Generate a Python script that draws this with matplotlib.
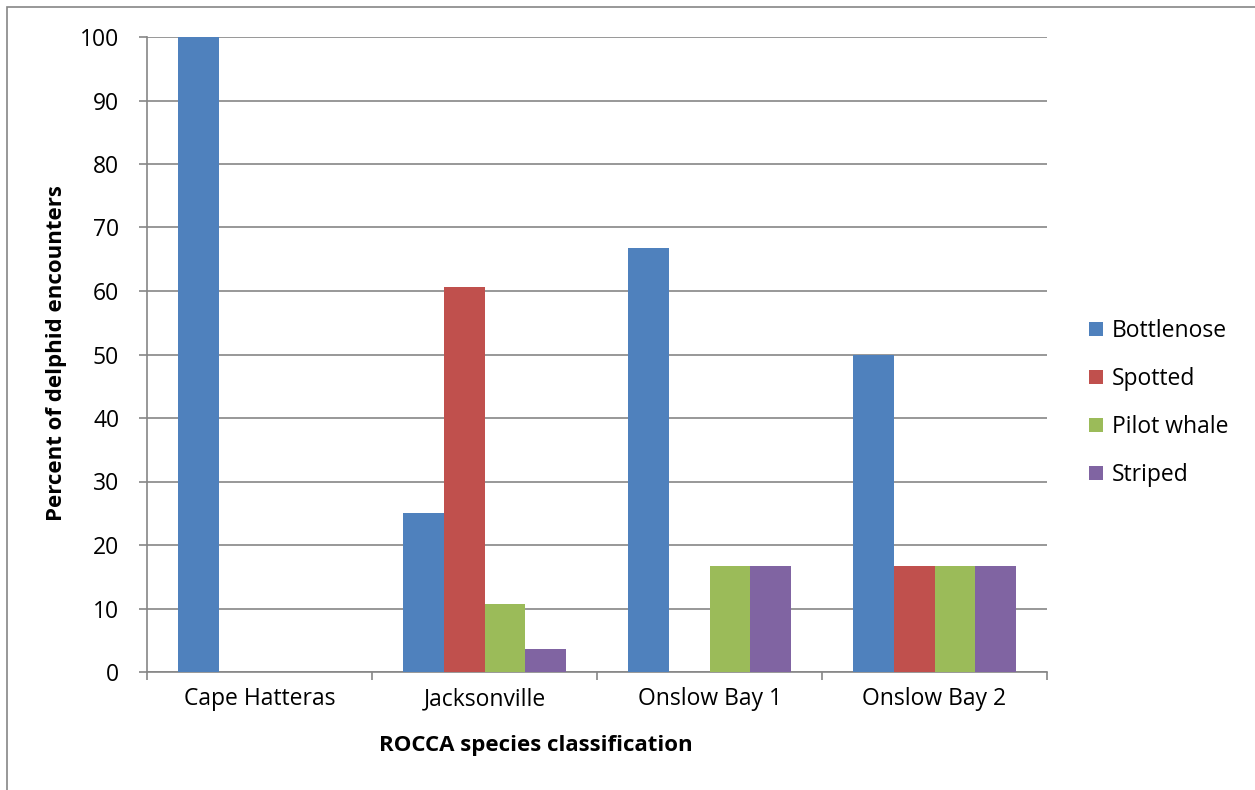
import matplotlib.pyplot as plt
from matplotlib.patches import Rectangle
import numpy as np

sites = ['Cape Hatteras', 'Jacksonville', 'Onslow Bay 1', 'Onslow Bay 2']
species = ['Bottlenose', 'Spotted', 'Pilot whale', 'Striped']
bottlenose = [100, 25.0, 66.7, 50.0]
spotted = [0, 60.7, 0, 16.7]
pilot_whale = [0, 10.7, 16.7, 16.7]
striped = [0, 3.6, 16.7, 16.7]
colors = ['#4F81BD', '#C0504D', '#9BBB59', '#8064A2']

plt.rcParams['font.family'] = ['Open Sans', 'DejaVu Sans']

fig = plt.figure(figsize=(12.55, 7.9), dpi=100)
ax = fig.add_axes([147/1255, 118/790, 900/1255, 635/790])

x = np.arange(len(sites))
w = 1/5.5
series = [bottlenose, spotted, pilot_whale, striped]
for i, (name, vals) in enumerate(zip(species, series)):
    ax.bar(x + (i - 1.5)*w, vals, w, color=colors[i], label=name, zorder=3)

ax.set_xlim(-0.5, 3.5)
ax.set_ylim(0, 100)
ax.set_yticks(range(0, 101, 10))
ax.set_xticks(x)
ax.set_xticklabels(sites)
ax.set_xticks(np.arange(-0.5, 4, 1), minor=True)
ax.tick_params(axis='x', which='major', length=0, pad=11, labelsize=16.5)
ax.tick_params(axis='x', which='minor', length=6, color='#868686', width=1.2)
ax.tick_params(axis='y', length=6, color='#868686', width=1.2, labelsize=16.5, pad=14)
ax.yaxis.grid(True, color='#868686', linewidth=1.2, zorder=0)
for s in ['top', 'right']:
    ax.spines[s].set_visible(False)
for s in ['left', 'bottom']:
    ax.spines[s].set_color('#868686')
    ax.spines[s].set_linewidth(1.2)

fig.text(536/1255, 1 - 746/790, 'ROCCA species classification', ha='center', va='center',
         fontsize=16, fontweight='bold')
fig.text(57/1255, 1 - 353/790, 'Percent of delphid encounters', ha='center', va='center',
         rotation=90, fontsize=16, fontweight='bold')

fig.legend(loc='center left', bbox_to_anchor=(1089/1255, 1 - 403/790), frameon=False,
           fontsize=16.5, handlelength=0.6, handleheight=0.6, handletextpad=0.4,
           labelspacing=1.05, borderaxespad=0, borderpad=0)

fig.patches.append(Rectangle((7/1255, -0.1), 1.2, 1 - 7/790 + 0.1, transform=fig.transFigure,
                             fill=False, edgecolor='#868686', linewidth=1.2))

fig.savefig('out.png', dpi=100)
